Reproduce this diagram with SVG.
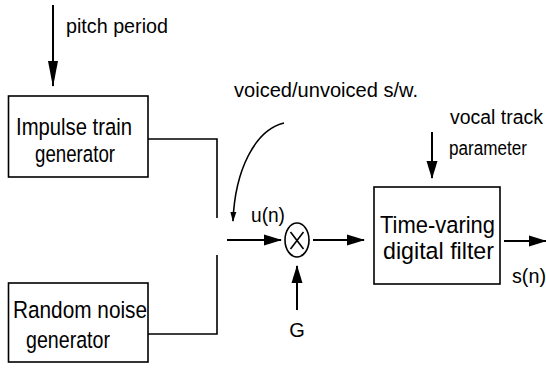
<svg xmlns="http://www.w3.org/2000/svg" width="546" height="369" viewBox="0 0 546 369">
<style>
  .box { fill: #fff; stroke: #000; stroke-width: 1.6; }
  .wire { fill: none; stroke: #000; stroke-width: 1.6; }
  .arrow { fill: none; stroke: #000; stroke-width: 2; }
  .lbl { font-family: "Liberation Sans", Arial, sans-serif; font-size: 20px; fill: #000; }
  .big { font-family: "Liberation Sans", Arial, sans-serif; font-size: 24.5px; fill: #000; }
</style>
<defs>
  <marker id="ah" markerUnits="userSpaceOnUse" markerWidth="18" markerHeight="12" refX="17" refY="6" orient="auto">
    <path d="M0,0.5 L18,6 L0,11.5 z" fill="#000"/>
  </marker>
  <marker id="ahlong" markerUnits="userSpaceOnUse" markerWidth="26" markerHeight="11" refX="25" refY="5.5" orient="auto">
    <path d="M0,0.5 L26,5.5 L0,10.5 z" fill="#000"/>
  </marker>
  <marker id="ahsmall" markerUnits="userSpaceOnUse" markerWidth="10" markerHeight="7" refX="9" refY="3.5" orient="auto">
    <path d="M0,0.5 L10,3.5 L0,6.5 z" fill="#000"/>
  </marker>
</defs>

<g id="connectors">
  <line class="arrow" x1="53" y1="5" x2="53" y2="86" marker-end="url(#ahlong)"/>
  <path class="wire" d="M148,139 H217 V218"/>
  <path class="wire" d="M148,334 H217 V255"/>
  <path class="wire" d="M284,123 C255,130 235,170 233,221" marker-end="url(#ahsmall)"/>
  <line class="arrow" x1="227" y1="240" x2="281" y2="240" marker-end="url(#ah)"/>
  <line class="arrow" x1="313" y1="240" x2="364" y2="240" marker-end="url(#ah)"/>
  <line class="arrow" x1="297" y1="310" x2="297" y2="266" marker-end="url(#ah)"/>
  <line class="arrow" x1="432" y1="132" x2="432" y2="178" marker-end="url(#ah)"/>
  <line class="arrow" x1="504" y1="241" x2="546" y2="241" marker-end="url(#ah)"/>
</g>

<g id="label-pitch">
  <text class="lbl" x="66" y="33" textLength="102" lengthAdjust="spacingAndGlyphs">pitch period</text>
</g>

<g id="impulse-train-generator">
  <rect class="box" x="8.5" y="96" width="139.5" height="81"/>
  <text class="big" x="16" y="135" textLength="116" lengthAdjust="spacingAndGlyphs">Impulse train</text>
  <text class="big" x="35" y="162" textLength="80" lengthAdjust="spacingAndGlyphs">generator</text>
</g>

<g id="random-noise-generator">
  <rect class="box" x="8.5" y="283" width="139.5" height="79"/>
  <text class="big" x="13" y="318" textLength="134" lengthAdjust="spacingAndGlyphs">Random noise</text>
  <text class="big" x="26" y="348" textLength="84" lengthAdjust="spacingAndGlyphs">generator</text>
</g>

<g id="label-switch">
  <text class="lbl" x="234" y="97" textLength="184" lengthAdjust="spacingAndGlyphs">voiced/unvoiced s/w.</text>
</g>

<g id="label-un">
  <text class="lbl" x="251" y="222" textLength="34" lengthAdjust="spacingAndGlyphs">u(n)</text>
</g>

<g id="multiplier">
  <ellipse class="wire" cx="297" cy="240" rx="12" ry="17"/>
  <path class="wire" d="M290.5,232 L303.5,249 M303.5,232 L290.5,249" stroke-width="1.2"/>
</g>

<g id="label-G">
  <text class="lbl" x="297" y="337" text-anchor="middle" font-size="21">G</text>
</g>

<g id="time-varying-filter">
  <rect class="box" x="374" y="187" width="126" height="97"/>
  <text class="big" x="380" y="233" textLength="115" lengthAdjust="spacingAndGlyphs">Time-varing</text>
  <text class="big" x="383" y="259" textLength="111" lengthAdjust="spacingAndGlyphs">digital filter</text>
</g>

<g id="label-vocal">
  <text class="lbl" x="450" y="124" textLength="93" lengthAdjust="spacingAndGlyphs">vocal track</text>
  <text class="lbl" x="449" y="155" textLength="78" lengthAdjust="spacingAndGlyphs">parameter</text>
</g>

<g id="label-sn">
  <text class="lbl" x="512" y="283" textLength="34" lengthAdjust="spacingAndGlyphs">s(n)</text>
</g>
</svg>
